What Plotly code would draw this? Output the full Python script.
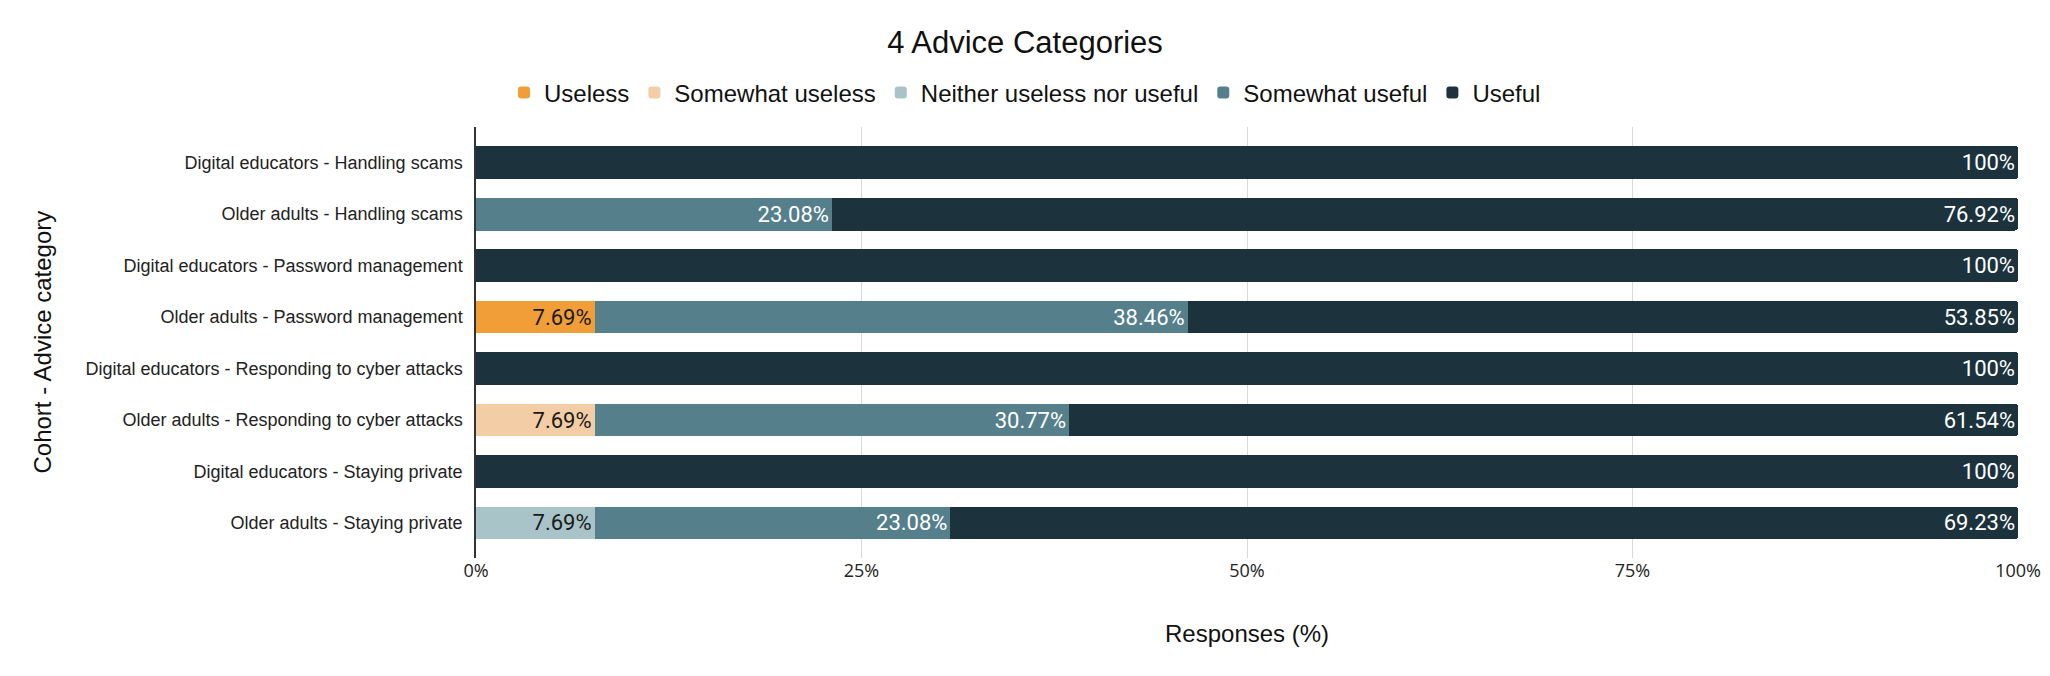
import plotly.graph_objects as go

categories = [
    "Digital educators - Handling scams",
    "Older adults - Handling scams",
    "Digital educators - Password management",
    "Older adults - Password management",
    "Digital educators - Responding to cyber attacks",
    "Older adults - Responding to cyber attacks",
    "Digital educators - Staying private",
    "Older adults - Staying private",
]

series_names = ["Useless", "Somewhat useless", "Neither useless nor useful", "Somewhat useful", "Useful"]

useless = [0, 0, 0, 7.69, 0, 0, 0, 0]
somewhat_useless = [0, 0, 0, 0, 0, 7.69, 0, 0]
neither = [0, 0, 0, 0, 0, 0, 0, 7.69]
somewhat_useful = [0, 23.08, 0, 38.46, 0, 30.77, 0, 23.08]
useful = [100, 76.92, 100, 53.85, 100, 61.54, 100, 69.23]

tick_vals = [0, 25, 50, 75, 100]
tick_text = ["0%", "25%", "50%", "75%", "100%"]

colors = ["#f29e38", "#f3cda5", "#a9c4c8", "#557f8b", "#1c333d"]
text_colors = ["#1a1a1a", "#1a1a1a", "#1a1a1a", "#ffffff", "#ffffff"]

all_series = [useless, somewhat_useless, neither, somewhat_useful, useful]

fig = go.Figure()
for name, vals, col, tcol in zip(series_names, all_series, colors, text_colors):
    labels = [f"{v:g}%" if v > 0 else "" for v in vals]
    fig.add_trace(go.Bar(
        name=name,
        y=categories,
        x=vals,
        orientation="h",
        marker=dict(color=col, line=dict(width=0)),
        text=labels,
        textposition="inside",
        insidetextanchor="end",
        textangle=0,
        textfont=dict(family="Roboto", size=22, color=tcol),
        hoverinfo="x+y+name",
    ))

W, H = 2050, 676
L, R, T, B = 476, 32, 127, 118
PW = W - L - R
PH = H - T - B

fig.update_layout(
    width=W, height=H,
    barmode="stack",
    bargap=0.36,
    barcornerradius=3,
    plot_bgcolor="white",
    paper_bgcolor="white",
    margin=dict(l=L, r=R, t=T, b=B, autoexpand=False),
    title=dict(text="4 Advice Categories", x=0.5, xref="container", xanchor="center",
               y=1 - 42 / H, yref="container", yanchor="middle",
               font=dict(family="Liberation Sans", size=31, color="#111111")),
    legend=dict(orientation="h", x=0.5, xref="container", xanchor="center",
                y=1 - 93 / H, yref="container", yanchor="middle",
                font=dict(family="Liberation Sans", size=24, color="#111111"),
                traceorder="normal", itemwidth=30, tracegroupgap=0),
    font=dict(family="Liberation Sans"),
)

fig.update_xaxes(
    range=[0, 100],
    tickvals=tick_vals, ticktext=tick_text,
    showgrid=True, gridcolor="#d9d9d9", gridwidth=1,
    zeroline=False, showline=False,
    tickfont=dict(family="Open Sans", size=18, color="#222222"),
    ticks="",
    fixedrange=True,
)
fig.update_yaxes(
    autorange=False,
    range=[7.68, -0.69],
    showline=True, linecolor="#333333", linewidth=1.5,
    ticks="", ticklabelstandoff=8,
    tickfont=dict(family="Liberation Sans", size=18, color="#222222"),
    showgrid=False,
)

fig.add_annotation(text="Responses (%)", xref="paper", x=0.5, yref="paper", y=(H - B - 633) / PH,
                   xanchor="center", yanchor="middle", showarrow=False,
                   font=dict(family="Liberation Sans", size=24, color="#111111"))
fig.add_annotation(text="Cohort - Advice category", xref="paper", x=(42 - L) / PW, yref="paper", y=0.5,
                   xanchor="center", yanchor="middle", showarrow=False, textangle=-90,
                   font=dict(family="Liberation Sans", size=24, color="#111111"))

fig.write_html("out.html", config={"displayModeBar": False},
               post_script="document.body.style.margin='0';")
